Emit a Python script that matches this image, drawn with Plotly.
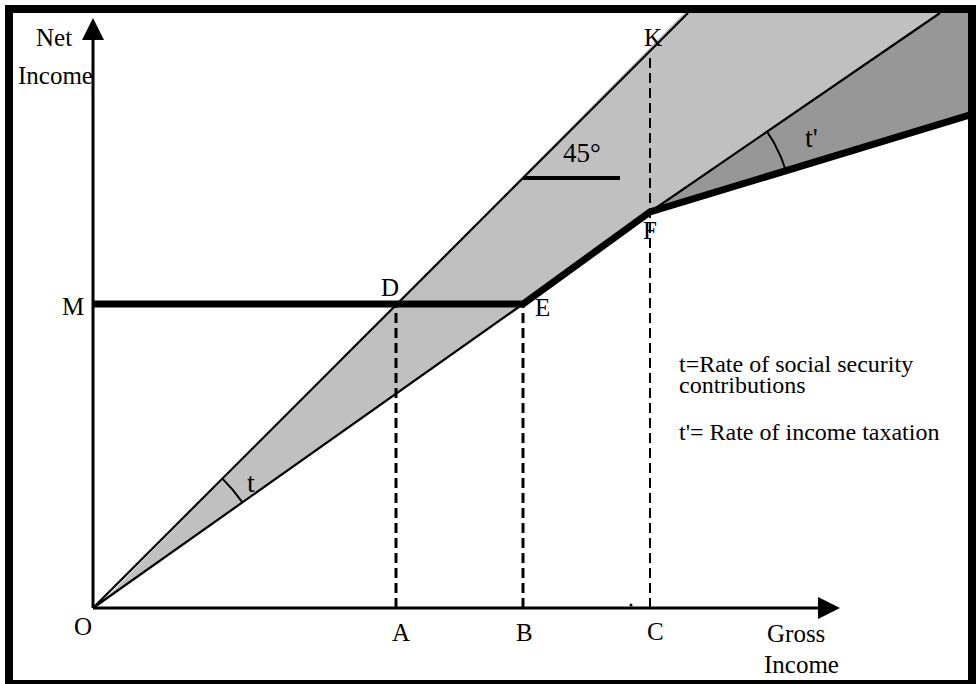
import numpy as np
import plotly.graph_objects as go

# ---- diagram values (gross income on x, net income on y; origin at O) ----
A_x, B_x, C_x = 303, 430, 557          # gross income levels A, B, C
M_y = 304                               # minimum net income M
K_y = 553                               # top of dashed line at K
top_y, right_x = 595, 883               # extent of the drawing
diag_x = [0, 595]                       # 45 degree line
diag_y = [0, 595]
lower_x = [0, 430, 557, 847]            # net of social security contributions
lower_y = [0, 304, 396, 595]
sched_x = [0, 430, 557, 883]            # net income schedule (thick)
sched_y = [304, 304, 396, 495]
light_x = [10, 591, 847, 557, 430, 10]  # wedge between 45 line and lower line
light_y = [7, 595, 595, 396, 304, 7]
dark_x = [557, 847, 883, 883, 557]      # income taxation wedge
dark_y = [396, 595, 595, 495, 396]
mark45_x = [430, 527]
mark45_y = [430, 430]

FONT = "Liberation Serif"
fig = go.Figure()

def poly(x, y, color):
    fig.add_trace(go.Scatter(x=x, y=y, mode="lines", fill="toself",
                             fillcolor=color, line=dict(width=0),
                             hoverinfo="skip"))

def line(x, y, w, dash=None):
    fig.add_trace(go.Scatter(x=x, y=y, mode="lines",
                             line=dict(color="black", width=w, dash=dash),
                             hoverinfo="skip"))

poly(light_x, light_y, "#c0c0c0")
poly(dark_x, dark_y, "#979797")

# axes
line([0, 0], [0, 572], 3)
line([0, 728], [0, 0], 3)
poly([-11, 11, 0, -11], [568, 568, 590, 568], "black")
poly([725, 725, 747, 725], [11, -11, 0, 11], "black")

# dashed verticals
line([A_x, A_x], [0, M_y], 3, "10px,5px")
line([B_x, B_x], [0, M_y], 3, "10px,5px")
line([C_x, C_x], [0, K_y], 2, "10px,5px")

# diagonal lines
line(diag_x, diag_y, 2.2)
line(lower_x, lower_y, 2.2)
line(sched_x, sched_y, 7)
line(mark45_x, mark45_y, 4)

# angle arcs
a0 = np.arctan2(diag_y[1], diag_x[1])
a1 = np.arctan2(lower_y[1], lower_x[1])
th = np.linspace(a1, a0, 30)
line(183 * np.cos(th), 183 * np.sin(th), 2)
b0 = np.arctan2(lower_y[3] - lower_y[2], lower_x[3] - lower_x[2])
b1 = np.arctan2(sched_y[3] - sched_y[2], sched_x[3] - sched_x[2])
th2 = np.linspace(b1, b0, 30)
line(sched_x[2] + 142 * np.cos(th2), sched_y[2] + 142 * np.sin(th2), 2)

# stray dot on the axis
fig.add_trace(go.Scatter(x=[538], y=[3], mode="markers",
                         marker=dict(color="black", size=3), hoverinfo="skip"))

labels = [
    ("Net", -39.5, 570.5, 25), ("Income", -38, 532.5, 25),
    ("M", -20.5, 302, 25), ("D", 297, 321, 25), ("E", 449, 301, 25),
    ("F", 557, 378, 25), ("K", 560, 571, 25), ("O", -10, -18, 25),
    ("A", A_x + 5, -24, 25), ("B", B_x + 1, -24, 25), ("C", C_x + 5, -23, 25),
    ("Gross", 703, -25.5, 25), ("Income", 708, -56.5, 25),
    ("45°", 489, 455, 27), ("t", 158, 125.5, 28), ("t'", 718, 470.5, 28),
]
for txt, x, y, s in labels:
    fig.add_annotation(x=x, y=y, text=txt, showarrow=False,
                       xanchor="center", yanchor="middle",
                       font=dict(family=FONT, size=s, color="black"))

legend = [("t=Rate of social security", 244), ("contributions", 223),
          ("t'= Rate of income taxation", 176)]
for txt, y in legend:
    fig.add_annotation(x=584, y=y, text=txt, showarrow=False,
                       xanchor="left", yanchor="middle",
                       font=dict(family=FONT, size=24, color="black"))

# frame
fig.add_shape(type="rect", xref="paper", yref="paper",
              x0=9 / 976, x1=972 / 976, y0=0, y1=1 - 9 / 684,
              line=dict(color="black", width=8))

fig.update_layout(
    width=976, height=684, margin=dict(l=0, r=0, t=0, b=0),
    paper_bgcolor="white", plot_bgcolor="white", showlegend=False,
    font=dict(family=FONT),
    xaxis=dict(range=[-93, 883], visible=False),
    yaxis=dict(range=[-76, 608], visible=False),
)
fig.write_html("out.html",
               config={"displayModeBar": False},
               post_script="document.body.style.margin='0px';"
                           "document.body.style.overflow='hidden';")
